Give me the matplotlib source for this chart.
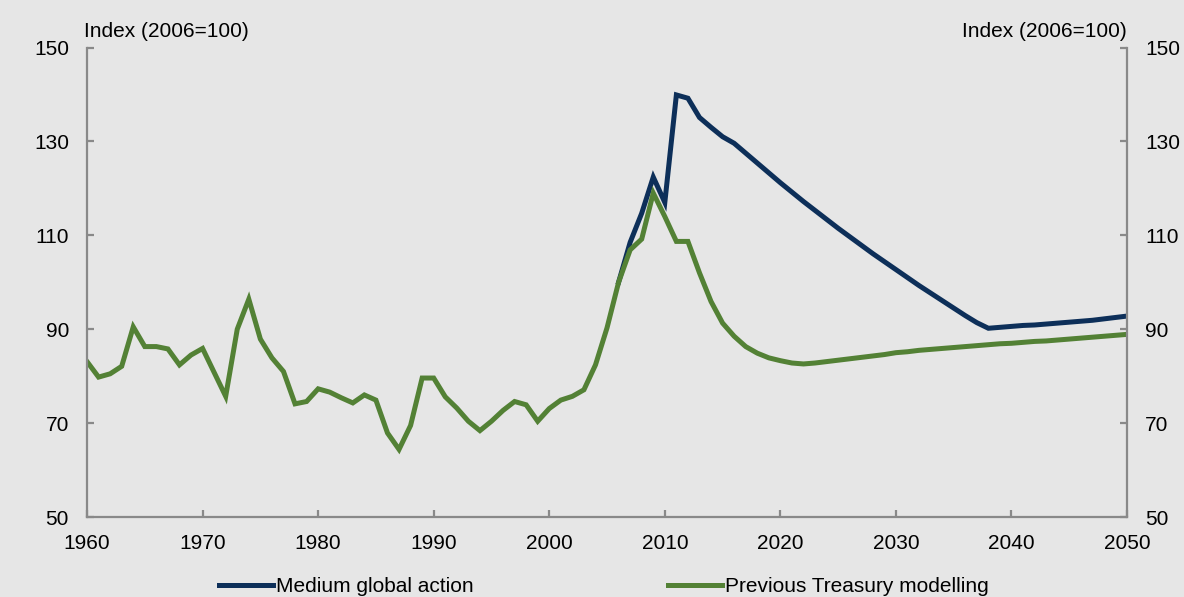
import matplotlib.pyplot as plt
import numpy as np

plt.rcParams["font.family"] = ["Liberation Sans", "DejaVu Sans"]

years = np.arange(1960, 2051)

previous_treasury = [
    83.1, 79.8, 80.5, 82.1, 90.5, 86.3, 86.3, 85.8, 82.4, 84.5,  # 1960s
    85.9, 80.8, 75.7, 90.0, 96.4, 87.9, 83.9, 81.0, 74.1, 74.6,  # 1970s
    77.3, 76.6, 75.4, 74.3, 76.0, 74.9, 67.9, 64.4, 69.5, 79.6,  # 1980s
    79.6, 75.6, 73.2, 70.4, 68.4, 70.4, 72.7, 74.6, 73.9, 70.4,  # 1990s
    73.1, 74.9, 75.7, 77.1, 82.4, 90.3, 100.0, 106.9, 109.2, 119.0,  # 2000s
    114.0, 108.7, 108.7, 102.0, 95.9, 91.3, 88.5, 86.3, 84.9, 83.9,  # 2010s
    83.3, 82.8, 82.6, 82.8, 83.1, 83.4, 83.7, 84.0, 84.3, 84.6,  # 2020s
    85.0, 85.2, 85.5, 85.7, 85.9, 86.1, 86.3, 86.5, 86.7, 86.9,  # 2030s
    87.0, 87.2, 87.4, 87.5, 87.7, 87.9, 88.1, 88.3, 88.5, 88.7,  # 2040s
    88.9,
]

medium_years = np.arange(2006, 2051)
medium_global = [
    100.0, 108.5, 114.7, 122.4,
    117.0, 139.9, 139.2, 135.1, 133.0, 131.0, 129.6, 127.5, 125.4, 123.3,
    121.2, 119.2, 117.2, 115.3, 113.4, 111.5, 109.7, 107.9, 106.1, 104.4,
    102.7, 101.0, 99.3, 97.7, 96.1, 94.5, 92.9, 91.4, 90.2, 90.4,
    90.6, 90.8, 90.9, 91.1, 91.3, 91.5, 91.7, 91.9, 92.2, 92.5,
    92.8,
]

y_ticks = [50, 70, 90, 110, 130, 150]
x_ticks = np.arange(1960, 2051, 10)

bg = "#E6E6E6"
spine_col = "#898989"
blue = "#0D2F59"
green = "#538135"

fig = plt.figure(figsize=(11.84, 5.97), dpi=100, facecolor=bg)
ax = fig.add_axes([0.0735, 0.134, 0.8784, 0.7864], facecolor=bg)

ax.plot(medium_years, medium_global, color=blue, lw=3.6, solid_joinstyle="miter",
        label="Medium global action")
ax.plot(years, previous_treasury, color=green, lw=3.6, solid_joinstyle="miter",
        label="Previous Treasury modelling")

ax.set_xlim(1960, 2050)
ax.set_ylim(50, 150)
ax.set_xticks(x_ticks)
ax.set_yticks(y_ticks)

ax.spines["top"].set_visible(False)
for side in ("left", "right", "bottom"):
    ax.spines[side].set_color(spine_col)
    ax.spines[side].set_linewidth(1.6)

ax.tick_params(axis="both", direction="in", length=5, width=1.6, color=spine_col,
               labelsize=15, labelcolor="black")
ax.tick_params(axis="y", pad=13, right=True, labelright=True)
ax.tick_params(axis="x", pad=12)

ax.text(-0.003, 1.013, "Index (2006=100)", transform=ax.transAxes, ha="left",
        va="bottom", fontsize=15)
ax.text(1.0, 1.013, "Index (2006=100)", transform=ax.transAxes, ha="right",
        va="bottom", fontsize=15)

fig.legend(loc="lower center", bbox_to_anchor=(0.51, -0.03), ncol=2, frameon=False,
           fontsize=15, handlelength=2.6, handletextpad=0.15, columnspacing=9.3)

fig.savefig("out.png", dpi=100, facecolor=bg)
